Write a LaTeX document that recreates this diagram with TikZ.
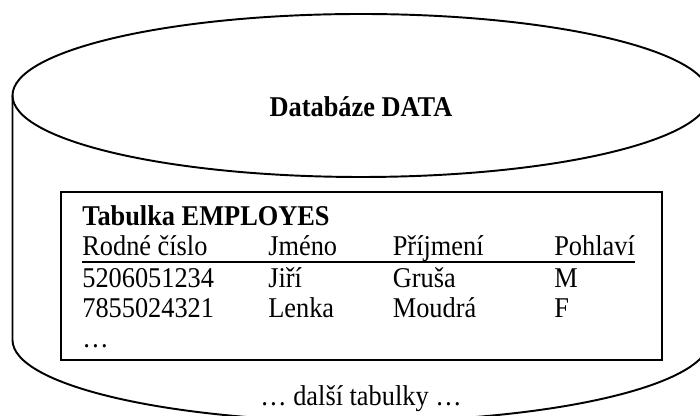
\documentclass[tikz,border=0pt]{standalone}
\usepackage{fontspec}
\setmainfont{Liberation Serif}
\usepackage{tikz}
\tikzset{
    % Outline of the database cylinder
    db outline/.style={
        draw=black,
        line width=1.1pt
    },
    % Frame round the table
    table frame/.style={
        rectangle,
        draw=black,
        line width=0.7pt,
        minimum width=12.02cm,
        minimum height=3.36cm,
        inner sep=0pt
    },
    cell/.style={
        anchor=base west,
        inner sep=0pt,
        xscale=0.92,
        font=\fontsize{16.3}{18}\selectfont
    },
    cell bold/.style={
        cell,
        font=\fontsize{16.3}{18}\selectfont\bfseries
    },
    header rule/.style={
        draw=black,
        line width=1.1pt
    }
}

\begin{document}
\begin{tikzpicture}
        \clip (0,0) rectangle (14,8.32);

        % Database cylinder
        \draw[db outline] (7.22,6.41) ellipse [x radius=6.97, y radius=1.63];
        \draw[db outline] (0.25,6.41) -- (0.25,1.52)
            arc[start angle=180, end angle=360, x radius=6.97, y radius=1.63] -- (14.19,6.41);
        \node[cell bold, anchor=base] (dbname) at (7.22,5.98) {Databáze DATA};

        % Table EMPLOYES
        \node[table frame] (tablebox) at (7.23,2.80) {};
        \node[cell bold] (tabname) at (1.64,3.80) {Tabulka EMPLOYES};

        % Header row
        \node[cell] (hdrrc) at (1.64,3.20) {Rodné číslo};
        \node[cell] (hdrname) at (5.36,3.20) {Jméno};
        \node[cell] (hdrsurname) at (7.85,3.20) {Příjmení};
        \node[cell] (hdrsex) at (11.08,3.20) {Pohlaví};
        \draw[header rule] ([yshift=-0.12cm]hdrrc.base west) -- ([yshift=-0.12cm]hdrsex.base east);

        % Rows
        \node[cell] (rowArc) at (1.64,2.56) {5206051234};
        \node[cell] (rowAname) at (5.36,2.56) {Jiří};
        \node[cell] (rowAsurname) at (7.85,2.56) {Gruša};
        \node[cell] (rowAsex) at (11.08,2.56) {M};

        \node[cell] (rowBrc) at (1.64,1.96) {7855024321};
        \node[cell] (rowBname) at (5.36,1.96) {Lenka};
        \node[cell] (rowBsurname) at (7.85,1.96) {Moudrá};
        \node[cell] (rowBsex) at (11.08,1.96) {F};

        \node[cell] (rowmore) at (1.64,1.36) {…};

        % Other tables
        \node[cell, anchor=base] (others) at (7.22,0.20) {… další tabulky …};
\end{tikzpicture}
\end{document}
